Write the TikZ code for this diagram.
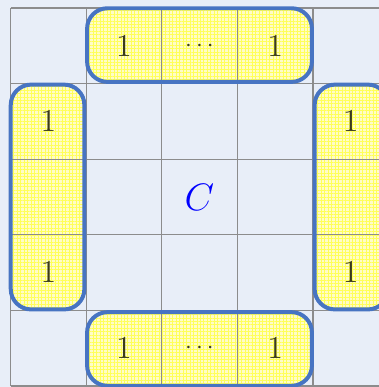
\documentclass[tikz,border=0pt]{standalone}
\usetikzlibrary{patterns.meta}
\definecolor{CellBlue}{HTML}{E8EEF8}
\definecolor{RimBlue}{HTML}{4774C2}
\definecolor{GridGray}{HTML}{8C8C8C}
\definecolor{OneInk}{HTML}{3A3A1C}

\begin{document}
\begin{tikzpicture}[
    onebox/.style={inner sep=0pt,rounded corners=0.27cm,fill=yellow!22,
      postaction={pattern={Hatch[angle=0,distance=1.3pt,line width=0.25pt]},pattern color=yellow!65}},
    rim/.style={draw=RimBlue,line width=1.5pt,rounded corners=0.27cm},
    val/.style={font=\fontsize{13}{15}\selectfont,text=OneInk},
    dots/.style={font=\fontsize{9}{11}\selectfont,text=OneInk}
  ]
    \useasboundingbox (-0.139,-5.013) rectangle (4.874,0.106);
    \fill[CellBlue] (-0.139,-5.013) rectangle (4.874,0.106);
    % yellow strips of ones
    \node[onebox,minimum width=2.96cm,minimum height=0.96cm] (top) at (2.5,-0.49) {};
    \node[onebox,minimum width=2.96cm,minimum height=0.96cm] (bottom) at (2.5,-4.51) {};
    \node[onebox,minimum width=0.96cm,minimum height=2.96cm] (left) at (0.49,-2.5) {};
    \node[onebox,minimum width=0.96cm,minimum height=2.96cm] (right) at (4.51,-2.5) {};
    % grid
    \draw[GridGray,line width=0.45pt] (0,-5) grid (5,0);
    \foreach \b in {top,bottom,left,right}
      \draw[rim] (\b.south west) rectangle (\b.north east);
    % entries
    \node[val] (t1) at (1.5,-0.5) {$1$};
    \node[dots] (t2) at (2.5,-0.5) {$\cdots$};
    \node[val] (t3) at (3.5,-0.5) {$1$};
    \node[val] (b1) at (1.5,-4.5) {$1$};
    \node[dots] (b2) at (2.5,-4.5) {$\cdots$};
    \node[val] (b3) at (3.5,-4.5) {$1$};
    \node[val] (l1) at (0.5,-1.5) {$1$};
    \node[val] (l2) at (0.5,-3.5) {$1$};
    \node[val] (r1) at (4.5,-1.5) {$1$};
    \node[val] (r2) at (4.5,-3.5) {$1$};
    \node[font=\fontsize{14}{16}\selectfont,text=blue] (core) at (2.5,-2.5) {$C$};
  \end{tikzpicture}
\end{document}
